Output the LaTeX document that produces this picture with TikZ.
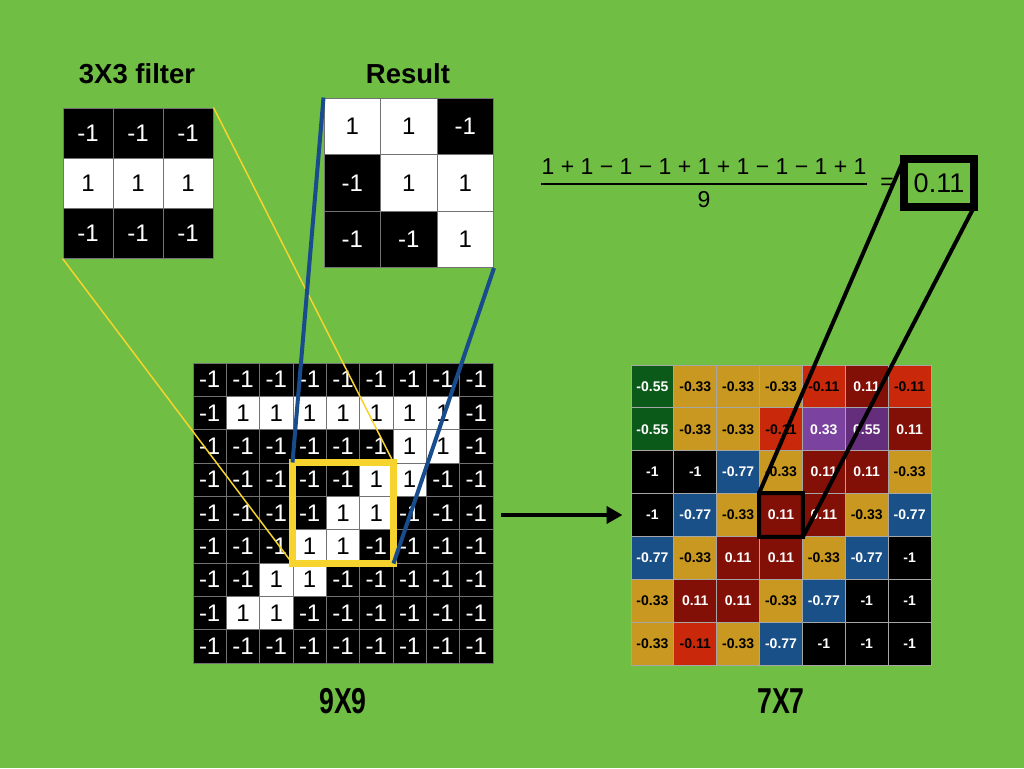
\documentclass[tikz,border=0pt]{standalone}
\usepackage{fontspec}
\setmainfont{Liberation Sans}
\newfontfamily\narrowfont[FakeStretch=0.74]{Liberation Sans}
\usetikzlibrary{arrows.meta}

\definecolor{bg}{RGB}{112,190,68}
\definecolor{winyellow}{RGB}{246,211,45}
\definecolor{winblue}{RGB}{24,76,140}
\definecolor{mgreen}{RGB}{12,90,26}
\definecolor{mgold}{RGB}{201,152,32}
\definecolor{mred}{RGB}{202,40,10}
\definecolor{mdred}{RGB}{130,16,6}
\definecolor{mblue}{RGB}{26,80,136}
\definecolor{mpurple}{RGB}{124,66,160}
\definecolor{mdpurple}{RGB}{100,46,124}

\tikzset{
    pix/.style={draw=black!55, line width=1pt, inner sep=0pt, font=\fontsize{24}{24}\selectfont},
    b-1/.style={fill=black, text=white},
    b1/.style={fill=white, text=black},
    feat/.style={draw=black!35, line width=1pt, inner sep=0pt, minimum size=42.857pt, font=\bfseries\fontsize{14}{14}\selectfont},
    m-1/.style={fill=black, text=white},
    m-0.77/.style={fill=mblue, text=white},
    m-0.55/.style={fill=mgreen, text=white},
    m-0.33/.style={fill=mgold, text=black},
    m-0.11/.style={fill=mred, text=black},
    m0.11/.style={fill=mdred, text=white},
    m0.33/.style={fill=mpurple, text=white},
    m0.55/.style={fill=mdpurple, text=white},
    title/.style={font=\bfseries\fontsize{27.5}{27.5}\selectfont},
    size/.style={font=\narrowfont\bfseries\fontsize{36}{36}\selectfont},
    eqtext/.style={font=\fontsize{23}{23}\selectfont, inner sep=0pt}
}

\begin{document}
\begin{tikzpicture}[x=1pt, y=-1pt]
    \fill[bg] (0, 0) rectangle (1024, 768);

    % input image 9x9
    \foreach \row [count=\r from 0] in {
        {-1,-1,-1,-1,-1,-1,-1,-1,-1},
        {-1,1,1,1,1,1,1,1,-1},
        {-1,-1,-1,-1,-1,-1,1,1,-1},
        {-1,-1,-1,-1,-1,1,1,-1,-1},
        {-1,-1,-1,-1,1,1,-1,-1,-1},
        {-1,-1,-1,1,1,-1,-1,-1,-1},
        {-1,-1,1,1,-1,-1,-1,-1,-1},
        {-1,1,1,-1,-1,-1,-1,-1,-1},
        {-1,-1,-1,-1,-1,-1,-1,-1,-1}}
        \foreach \v [count=\c from 0] in \row
            \node[pix, b\v, minimum size=33.333pt] (g\r\c) at ({193+33.333*(\c+0.5)}, {363+33.333*(\r+0.5)}) {\v};

    % filter
    \foreach \row [count=\r from 0] in {{-1,-1,-1},{1,1,1},{-1,-1,-1}}
        \foreach \v [count=\c from 0] in \row
            \node[pix, b\v, minimum size=50pt] (f\r\c) at ({63+50*(\c+0.5)}, {108+50*(\r+0.5)}) {\v};

    % result
    \foreach \row [count=\r from 0] in {{1,1,-1},{-1,1,1},{-1,-1,1}}
        \foreach \v [count=\c from 0] in \row
            \node[pix, b\v, minimum size=56.5pt] (p\r\c) at ({324+56.5*(\c+0.5)}, {98+56.5*(\r+0.5)}) {\v};

    % feature map 7x7
    \foreach \row [count=\r from 0] in {
        {-0.55,-0.33,-0.33,-0.33,-0.11,0.11,-0.11},
        {-0.55,-0.33,-0.33,-0.11,0.33,0.55,0.11},
        {-1,-1,-0.77,-0.33,0.11,0.11,-0.33},
        {-1,-0.77,-0.33,0.11,0.11,-0.33,-0.77},
        {-0.77,-0.33,0.11,0.11,-0.33,-0.77,-1},
        {-0.33,0.11,0.11,-0.33,-0.77,-1,-1},
        {-0.33,-0.11,-0.33,-0.77,-1,-1,-1}}
        \foreach \v [count=\c from 0] in \row
            \node[feat, m\v] (o\r\c) at ({631+42.857*(\c+0.5)}, {365+42.857*(\r+0.5)}) {\v};

    \node[title] (tf) at (137, 74) {3X3 filter};
    \node[title] (tr) at (408, 74) {Result};
    \node[size] (n9) at (343, 701) {9X9};
    \node[size] (n7) at (781, 701) {7X7};

    \node[eqtext, anchor=south] (num) at (704, 175) {1 + 1 − 1 − 1 + 1 + 1 − 1 − 1 + 1};
    \node[eqtext, anchor=base] (den) at (704, 207) {9};
    \node[eqtext] (eq) at (887, 184) {=};
    \node[draw, line width=8pt, outer sep=0pt, minimum width=70pt, minimum height=48pt, font=\fontsize{27}{27}\selectfont] (res) at (939, 183) {0.11};

    \draw[line width=1.3pt]
    ([yshift=-9pt]num.south west) -- ([yshift=-9pt]num.south east);

    \draw[winyellow, line width=1.5pt]
    (f02.north east) -- (g35.north east)
    (f20.south west) -- (g53.south west);
    \draw[winyellow, line width=7pt] (g33.north west) rectangle (g55.south east);

    \draw[winblue, line width=4pt]
    (p00.north west) -- (g33.north west)
    (p22.south east) -- (g55.south east);

    \draw[line width=4pt]
    (res.north west) -- (o33.north west)
    (res.south east) -- (o33.south east)
    (o33.north west) rectangle (o33.south east);

    \draw[line width=4pt, -{Triangle[length=16pt, width=17pt]}, shorten <=7pt, shorten >=8pt]
    (g48.east |- o30.west) -- (o30.west);
\end{tikzpicture}
\end{document}
